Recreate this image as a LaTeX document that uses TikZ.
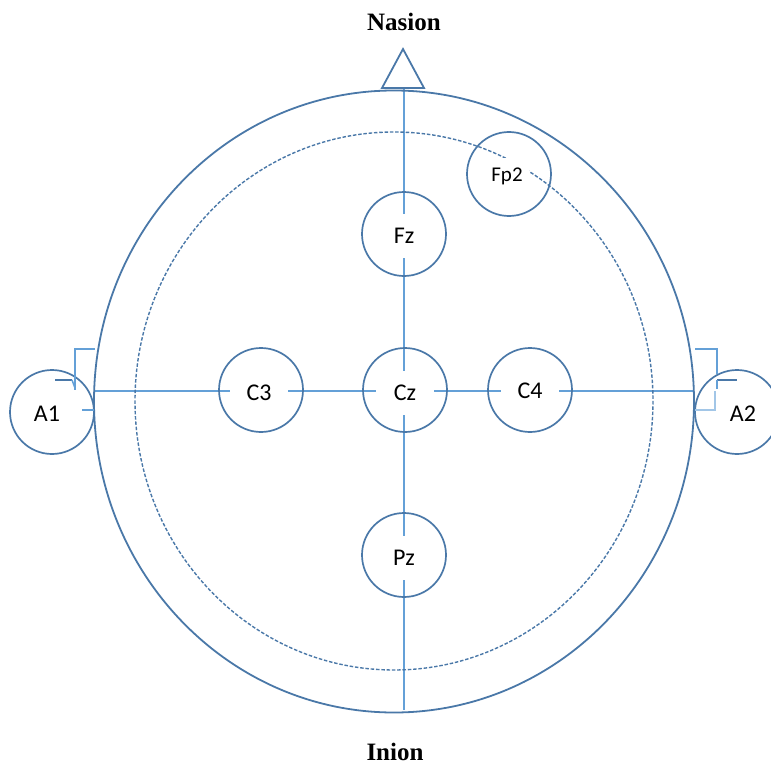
\documentclass[tikz,border=0pt]{standalone}
\usepackage{fontspec}
\setmainfont{Liberation Serif}
\newfontfamily\labelfont{Carlito}
\usetikzlibrary{backgrounds}
\definecolor{rim}{RGB}{74,120,168}
\definecolor{guide}{RGB}{100,160,215}
\tikzset{
  electrode/.style={circle, draw=rim, line width=1.7pt, minimum size=84pt, inner sep=0pt},
  tag/.style={fill=white, minimum width=58pt, minimum height=44pt, inner sep=0pt,
              font=\labelfont\fontsize{24}{27}\selectfont, text=black},
  axis/.style={draw=guide, line width=1.6pt},
  landmark/.style={font=\bfseries\fontsize{25}{28}\selectfont, text=black},
  earpiece/.style={draw=guide, line width=1.5pt}
}
\begin{document}
\begin{tikzpicture}[x=1pt,y=-1pt]
\useasboundingbox (0,0) rectangle (771,765);

% head outline and inner (dashed) ring
\draw[rim, line width=1.8pt] (394,401.5) ellipse [x radius=300, y radius=311];
\draw[rim, line width=1.4pt, dash pattern=on 3.5pt off 1.8pt] (394,401) ellipse [x radius=259, y radius=269];

% nose marker
\draw[rim, line width=1.8pt, line join=miter] (382,88) -- (403,49) -- (424,88) -- cycle;

% reference points on the head outline
\coordinate (left)   at (94,391);
\coordinate (right)  at (694,391);
\coordinate (top)    at (404,89);
\coordinate (bottom) at (404,710);

% electrodes
\node[electrode] (Fz)  at (404,234) {};
\node[electrode] (Cz)  at (405,390) {};
\node[electrode] (C3)  at (261,390) {};
\node[electrode] (C4)  at (530,390) {};
\node[electrode] (Pz)  at (404,555) {};
\node[electrode] (Fp2) at (509,174) {};
\node[electrode] (A1)  at (52,412) {};
\node[electrode] (A2)  at (737,412) {};

% midline guides behind the electrodes
\begin{scope}[on background layer]
  \draw[axis] (left) -- (right);
  \draw[axis] (top) -- (bottom);
\end{scope}

% electrode labels (white boxes mask the guides)
\node[tag] at (404,236) {Fz};
\node[tag] at (405,393) {Cz};
\node[tag] at (259,393) {C3};
\node[tag] at (530,391) {C4};
\node[tag] at (404,558) {Pz};
\node[tag, minimum width=44pt, minimum height=36pt, font=\labelfont\fontsize{21}{24}\selectfont] at (507,176) {Fp2};
\node[font=\labelfont\fontsize{24}{27}\selectfont] at (47,414) {A1};
\node[font=\labelfont\fontsize{24}{27}\selectfont] at (743,414) {A2};

% ear clips
\coordinate (A1hook) at (75,349);
\coordinate (A2hook) at (717,349);
\draw[earpiece] (95,349) -- (A1hook) -- (75,390);
\draw[rim, line width=2.2pt] (55,380) -- (72,380);
\draw[earpiece] (72,380) -- (75,388);
\draw[earpiece] (82,410) -- (94,410);
\draw[earpiece] (695,349) -- (A2hook) -- (717,374);
\draw[rim, line width=2.2pt] (717,380) -- (737,380);
\draw[earpiece] (717,380) -- (717,389);
\draw[earpiece, draw=guide!60] (715,391) -- (715,410) -- (695,410);

% landmarks
\node[landmark] (nasion) at (404,22) {Nasion};
\node[landmark] (inion)  at (395,752) {Inion};
\end{tikzpicture}
\end{document}
